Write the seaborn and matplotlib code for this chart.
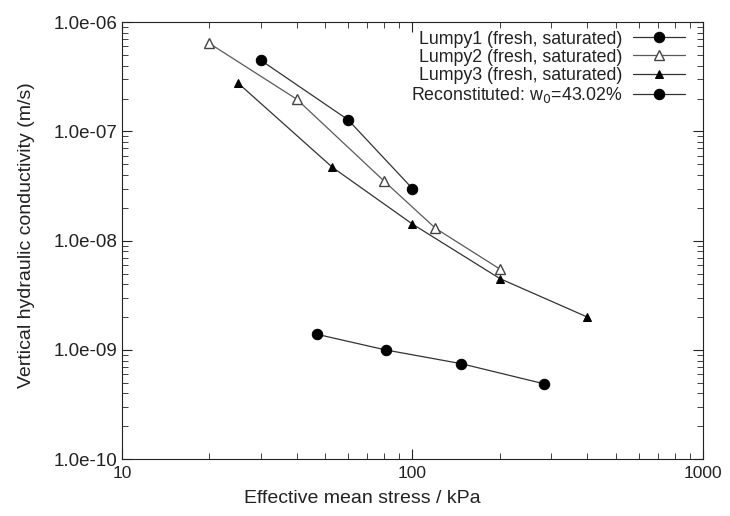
import matplotlib
matplotlib.use("Agg")
import matplotlib.pyplot as plt
import seaborn as sns
import numpy as np
import pandas as pd
from matplotlib.ticker import LogLocator, FixedLocator, FuncFormatter, NullFormatter

sns.set_theme(style="ticks")
plt.rcParams['font.family'] = ['Liberation Sans', 'DejaVu Sans']

lumpy1_x = [30, 60, 100]
lumpy1_y = [4.5e-7, 1.28e-7, 3.0e-8]
lumpy2_x = [20, 40, 80, 120, 200]
lumpy2_y = [6.4e-7, 1.97e-7, 3.5e-8, 1.3e-8, 5.5e-9]
lumpy3_x = [25, 53, 100, 200, 400]
lumpy3_y = [2.8e-7, 4.7e-8, 1.42e-8, 4.5e-9, 2.0e-9]
recon_x = [47, 81, 147, 284]
recon_y = [1.39e-9, 1.0e-9, 7.5e-10, 4.9e-10]

labels = ["Lumpy1 (fresh, saturated)", "Lumpy2 (fresh, saturated)",
          "Lumpy3 (fresh, saturated)", r"Reconstituted: w$_0$=43.02%"]

fig = plt.figure(figsize=(7.3, 5.16), dpi=100)
ax = fig.add_axes([0.167, 0.110, 0.796, 0.847])

series = [
    (lumpy1_x, lumpy1_y, labels[0], dict(marker='o', markersize=7.5, markerfacecolor='black', markeredgecolor='black'), '#333333'),
    (lumpy2_x, lumpy2_y, labels[1], dict(marker='^', markersize=6.5, markerfacecolor='white', markeredgecolor='#444444', markeredgewidth=1.0), '#5a5a5a'),
    (lumpy3_x, lumpy3_y, labels[2], dict(marker='^', markersize=6, markerfacecolor='black', markeredgecolor='black'), '#333333'),
    (recon_x, recon_y, labels[3], dict(marker='o', markersize=7.5, markerfacecolor='black', markeredgecolor='black'), '#333333'),
]
for xs, ys, lab, mk, col in series:
    df = pd.DataFrame({"x": xs, "y": ys})
    sns.lineplot(data=df, x="x", y="y", ax=ax, color=col, linewidth=0.9, label=lab, **mk)

ax.set_xscale('log')
ax.set_yscale('log')
ax.set_xlim(10, 1000)
ax.set_ylim(1e-10, 1e-6)

ax.xaxis.set_major_locator(FixedLocator([10, 100, 1000]))
ax.xaxis.set_major_formatter(FuncFormatter(lambda v, p: f"{v:g}"))
ax.xaxis.set_minor_locator(LogLocator(base=10, subs=np.arange(2, 10)))
ax.xaxis.set_minor_formatter(NullFormatter())
ax.yaxis.set_major_locator(FixedLocator([1e-10, 1e-9, 1e-8, 1e-7, 1e-6]))
ax.yaxis.set_major_formatter(FuncFormatter(lambda v, p: f"{v:.1e}"))
ax.yaxis.set_minor_locator(LogLocator(base=10, subs=np.arange(2, 10)))
ax.yaxis.set_minor_formatter(NullFormatter())

ax.tick_params(which='both', direction='in', top=True, right=True, colors='#222222')
ax.tick_params(which='major', length=7, width=0.8)
ax.tick_params(which='minor', length=4, width=0.6)
ax.tick_params(axis='x', pad=5, labelsize=12.5)
ax.tick_params(axis='y', pad=3, labelsize=13.5)
for s in ax.spines.values():
    s.set_linewidth(0.8)
    s.set_color('#222222')

ax.set_xlabel("Effective mean stress / kPa", fontsize=14, color='#222222')
ax.set_ylabel("Vertical hydraulic conductivity (m/s)", fontsize=14, color='#222222')
ax.xaxis.set_label_coords(0.413, -0.071)
ax.yaxis.set_label_coords(-0.150, 0.513)

leg = ax.legend(loc='upper right', bbox_to_anchor=(0.981, 0.997), frameon=False,
                markerfirst=False, fontsize=12.8,
                handlelength=2.9, handletextpad=0.6, labelspacing=0.06,
                borderaxespad=0.0, borderpad=0.4)
for t in leg.get_texts():
    t.set_ha('right')
    t.set_color('#222222')
leg._legend_box.align = "right"

fig.savefig("out.png", dpi=100)
